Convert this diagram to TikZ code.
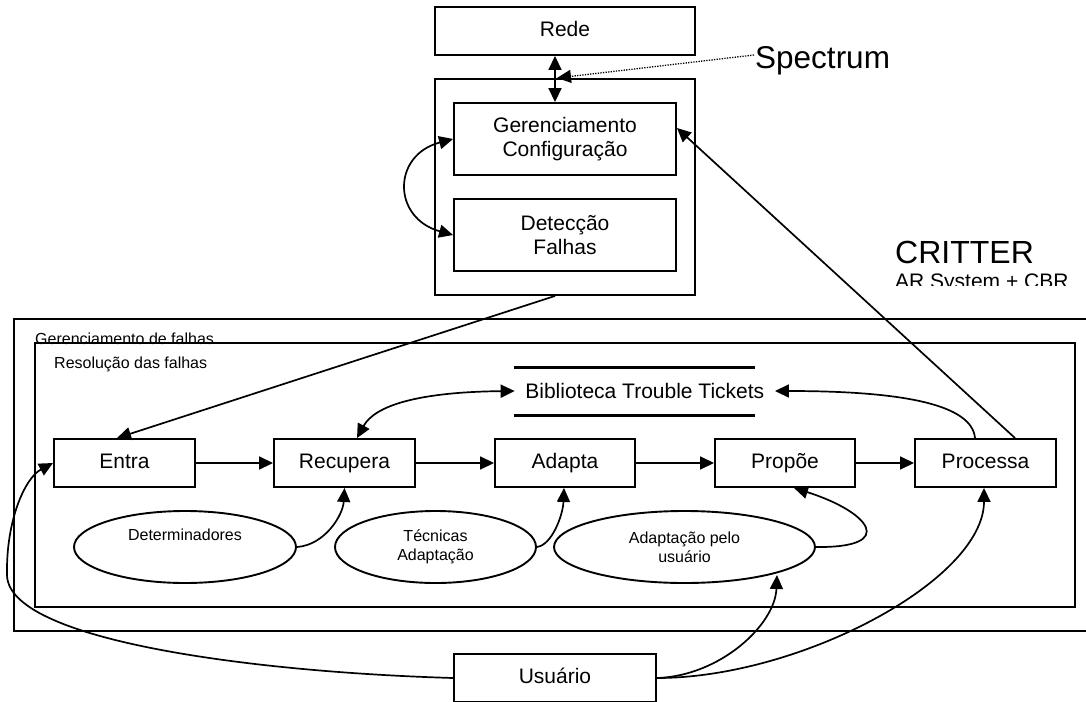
\documentclass[tikz,border=0pt]{standalone}
\usepackage{fontspec}
\setmainfont{Liberation Sans}
\usetikzlibrary{arrows.meta,shapes.geometric}

\begin{document}
\begin{tikzpicture}[x=1pt,y=-1pt,
  frame/.style={draw,line width=1.9pt},
  box/.style={draw,line width=1.9pt,rectangle,inner sep=0pt,minimum height=48pt,
    font=\fontsize{21}{24}\selectfont,text height=15pt,text depth=4.5pt},
  tallbox/.style={draw,line width=1.9pt,rectangle,inner sep=0pt,minimum height=72pt,
    minimum width=222pt,align=center,font=\fontsize{21}{23.5}\selectfont},
  oval/.style={draw,line width=1.9pt,ellipse,inner sep=0pt,minimum height=72pt,
    align=center,font=\fontsize{16}{19}\selectfont},
  lbl/.style={inner sep=0pt,anchor=base west},
  tip/.tip={Triangle[length=14pt,width=13pt]},
  conn/.style={line width=1.7pt,-tip},
  both/.style={line width=1.7pt,tip-tip}
]
\useasboundingbox (0,0) rectangle (1086,701);
\clip (0,0) rectangle (1086,701);

% network and the management system above it
\node[box,minimum width=260pt] (rede) at (565,31) {Rede};
\node[frame,rectangle,inner sep=0pt,minimum width=260pt,minimum height=216pt] (sys) at (565,187) {};
\node[tallbox] (cfg) at (565,139) {Gerenciamento\\Configuração};
\node[tallbox] (det) at (565,235) {Detecção\\Falhas};

\draw[both] ([xshift=-10pt]rede.south) -- ([xshift=-10pt]cfg.north);
\draw[both] (cfg.west) .. controls (392,155) and (392,218) .. (det.west);

% Spectrum label with its dotted pointer
\node[lbl,font=\fontsize{31.5}{36}\selectfont] (spec) at (755,69) {Spectrum};
\coordinate (specfrom) at (754,55);
\coordinate (specto) at (557,78);
\draw[line width=1.3pt,dash pattern=on 1.3pt off 1.3pt,-tip] (specfrom) -- (specto);

% CRITTER heading
\node[lbl,font=\fontsize{32}{36}\selectfont] (critter) at (895,263) {CRITTER};
\begin{scope}
  \clip (880,266) rectangle (1086,285);
  \node[lbl,font=\fontsize{21}{24}\selectfont] (arsys) at (895,288) {AR System + CBR};
\end{scope}

% fault management frames
\draw[frame] (1092,319) -- (14,319) -- (14,631) -- (1092,631);
\node[lbl,font=\fontsize{16}{19}\selectfont] (gflab) at (35,344) {Gerenciamento de falhas};
\draw[frame] (35,343) rectangle (1075,607);
\node[lbl,font=\fontsize{16}{19}\selectfont] (rflab) at (54,368) {Resolução das falhas};

% trouble ticket library
\draw[line width=3pt] (514,367) -- (755,367);
\draw[line width=3pt] (514,415) -- (755,415);
\node[inner xsep=10.5pt,inner ysep=0pt,font=\fontsize{21}{24}\selectfont] (bib) at (644.8,391) {Biblioteca Trouble Tickets};

% CBR cycle
\node[box,minimum width=141pt] (ent) at (124.5,463) {Entra};
\node[box,minimum width=141pt] (rec) at (344.5,463) {Recupera};
\node[box,minimum width=140pt] (ada) at (565,463) {Adapta};
\node[box,minimum width=140pt] (pro) at (785,463) {Propõe};
\node[box,minimum width=141pt] (prc) at (985.5,463) {Processa};

\draw[conn] (ent) -- (rec);
\draw[conn] (rec) -- (ada);
\draw[conn] (ada) -- (pro);
\draw[conn] (pro) -- (prc);

% supporting knowledge
\node[oval,minimum width=222pt] (dtm) at (185,547) {Determinadores\\\strut};
\node[oval,minimum width=201pt] (tec) at (435.5,547) {Técnicas\\Adaptação};
\node[oval,minimum width=261pt] (aus) at (684.5,547) {Adaptação pelo\\usuário};

\node[box,minimum width=202pt] (usr) at (555,678) {Usuário};

% connectors
\draw[conn] ([xshift=-10pt]sys.south) -- ([xshift=-7.5pt]ent.north);
\draw[conn] ([xshift=29.5pt]prc.north) -- ([yshift=11pt]cfg.east);
\draw[both] ([xshift=12.5pt]rec.north) .. controls (375,405) and (420,392) .. (bib.west);
\draw[conn] ([xshift=-10.5pt]prc.north) .. controls (972,405) and (905,391) .. (bib.east);
\draw[conn] (dtm.east) .. controls (325,545) and (343,515) .. (rec.south);
\draw[conn] (tec.east) .. controls (552,545) and (563,515) .. ([xshift=-1pt]ada.south);
\draw[conn] (aus.east) .. controls (898,548) and (870,512) .. ([xshift=9pt]pro.south);
\draw[conn] (usr.west) .. controls (250,672) and (8,640) .. (7,575)
  .. controls (6,520) and (25,478) .. (ent.west);
\draw[conn] (usr.east) .. controls (720,676) and (775,625) .. (777,575);
\draw[conn] (usr.east) .. controls (800,678) and (984,580) .. ([xshift=-1.5pt]prc.south);
\end{tikzpicture}
\end{document}
